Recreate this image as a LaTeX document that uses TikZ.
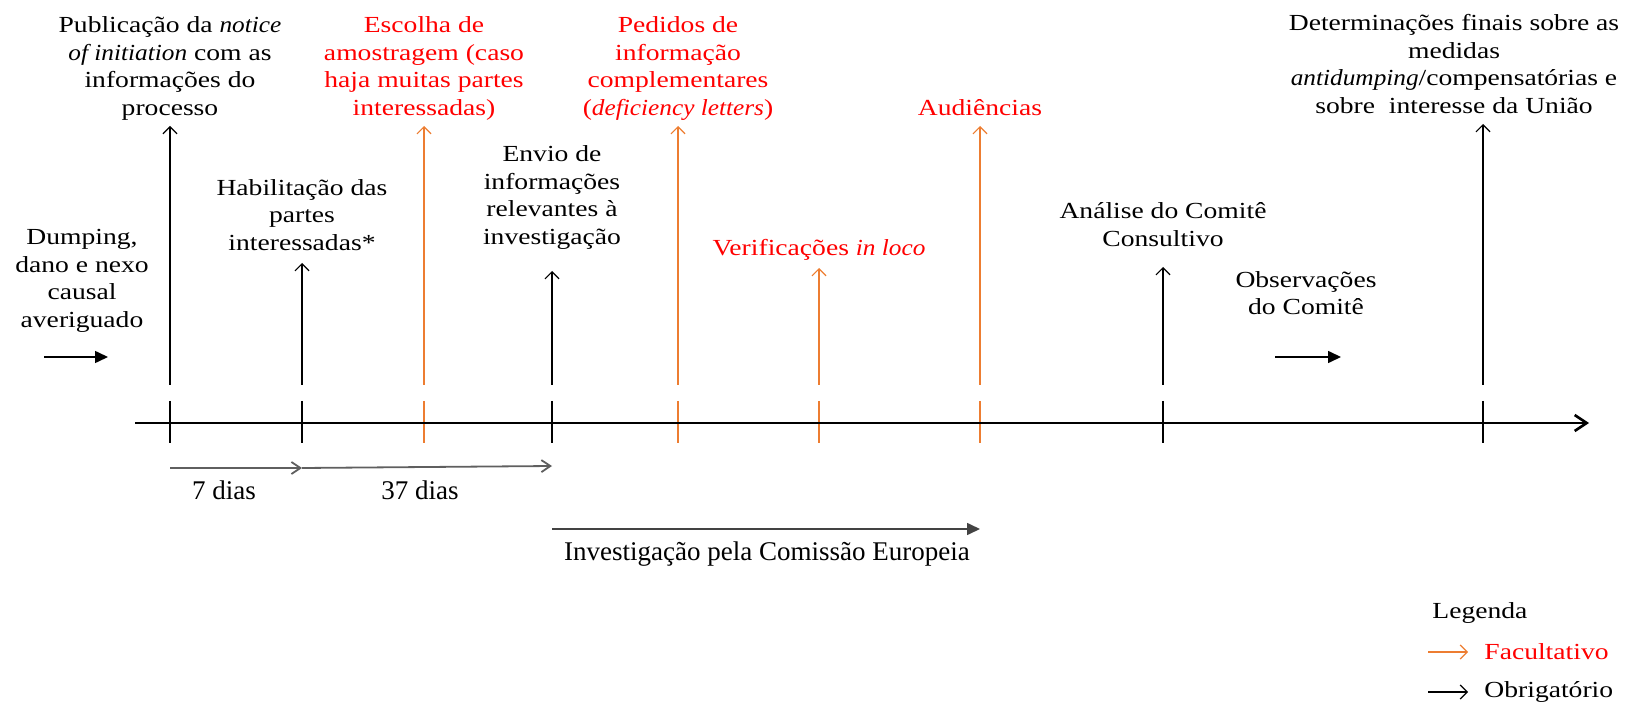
\documentclass[tikz,border=0pt]{standalone}
\usepackage{fontspec}
\setmainfont{Liberation Serif}[FakeStretch=1.2]
\newfontfamily\narrowfont{Liberation Serif}
\newfontfamily\halfwide{Liberation Serif}[FakeStretch=1.1]
\newcommand\itl[1]{{\halfwide\itshape #1}}
\usepackage{xcolor}
\usepackage{tikz}
\usetikzlibrary{arrows.meta}
\definecolor{R1}{RGB}{255,0,0}
\definecolor{O1}{RGB}{237,125,49}
\definecolor{G1}{RGB}{95,95,95}

\begin{document}
\begin{tikzpicture}[x=0.5pt,y=-0.5pt,
      font=\fontsize{11.5}{13.8}\selectfont,
      ev/.style={align=center,anchor=south,text depth=0pt,
                 inner xsep=0pt,inner ysep=5pt},
      fac/.style={ev,text=R1},
      txt/.style={align=center,inner sep=0pt},
      obr/.style={-{Straight Barb[length=3.5pt,width=7pt]},line width=0.6pt},
      opt/.style={obr,O1},
      tk/.style={line width=0.6pt},
      dias/.style={-{Straight Barb[length=4.5pt,width=6pt]},G1,line width=0.9pt},
      fwd/.style={-{Triangle[length=6.5pt,width=6pt]},line width=0.8pt},
      small/.style={font=\narrowfont\fontsize{13.5}{16}\selectfont,inner sep=0pt}]
  \useasboundingbox (0,0) rectangle (1648,705);

  % events above the time line
  \node[ev] (pub) at (170,126)
    {Publicação da \itl{notice}\\\itl{of initiation} com as\\
     informações do\\processo};
  \node[fac] (esc) at (424,126)
    {Escolha de\\amostragem (caso\\haja muitas partes\\interessadas)};
  \node[fac] (ped) at (678,126)
    {Pedidos de\\informação\\complementares\\(\itl{deficiency letters})};
  \node[fac] (aud) at (980,126) {Audiências};
  \node[ev] (det) at (1454,124)
    {Determinações finais sobre as\\medidas\\
     \itl{antidumping}/compensatórias e\\sobre\ \ interesse da União};
  \node[ev,inner ysep=6pt] (hab) at (302,263)
    {Habilitação das\\partes\\interessadas*};
  \node[ev,inner ysep=13pt] (env) at (552,271)
    {Envio de\\informações\\relevantes à\\investigação};
  \node[fac,inner ysep=6pt] (ver) at (819,268) {Verificações \itl{in loco}};
  \node[ev,inner ysep=10pt] (ana) at (1163,267)
    {Análise do Comitê\\Consultivo};

  \node[txt] (dmp) at (82,281) {Dumping,\\dano e nexo\\causal\\averiguado};
  \node[txt] (obs) at (1306,293) {Observações\\do Comitê};

  % arrows up from the line
  \coordinate (b1) at (170,385);
  \coordinate (b2) at (302,385);
  \coordinate (b3) at (424,385);
  \coordinate (b4) at (552,385);
  \coordinate (b5) at (678,385);
  \coordinate (b6) at (819,385);
  \coordinate (b7) at (980,385);
  \coordinate (b8) at (1163,385);
  \coordinate (b9) at (1483,385);
  \draw[obr] (b1) -- (b1 |- pub.south);
  \draw[obr] (b2) -- (b2 |- hab.south);
  \draw[opt] (b3) -- (b3 |- esc.south);
  \draw[obr] (b4) -- (b4 |- env.south);
  \draw[opt] (b5) -- (b5 |- ped.south);
  \draw[opt] (b6) -- (b6 |- ver.south);
  \draw[opt] (b7) -- (b7 |- aud.south);
  \draw[obr] (b8) -- (b8 |- ana.south);
  \draw[obr] (b9) -- (b9 |- det.south);

  % time line
  \foreach \x/\c in {170/black,302/black,424/O1,552/black,678/O1,
                     819/O1,980/O1,1163/black,1483/black}
    \draw[tk,\c] (\x,401) -- (\x,443);
  \coordinate (t0) at (135,423);
  \coordinate (t1) at (1589,423);
  \draw[-{Straight Barb[length=6pt,width=8pt]},line width=1.3pt] (t0) -- (t1);

  \coordinate (in1) at (44,357);
  \coordinate (in2) at (108,357);
  \draw[fwd] (in1) -- (in2);
  \coordinate (ob1) at (1275,357);
  \coordinate (ob2) at (1341,357);
  \draw[fwd] (ob1) -- (ob2);

  % periods
  \coordinate (d1) at (170,468);
  \coordinate (d2) at (302,468);
  \coordinate (d3) at (552,466);
  \draw[dias] (d1) -- (d2);
  \draw[dias] (d2) -- (d3);
  \node[small] (p7) at (224,490) {7 dias};
  \node[small] (p37) at (420,490) {37 dias};

  \coordinate (i1) at (552,529);
  \coordinate (i2) at (980,529);
  \draw[fwd,G1!70!black] (i1) -- (i2);
  \node[small] (inv) at (767,554) {Investigação pela Comissão Europeia};

  % legenda
  \node[anchor=west,inner sep=0pt] (leg) at (1432,613) {Legenda};
  \node[anchor=west,inner sep=0pt,text=R1] (lfac) at (1484,652) {Facultativo};
  \node[anchor=west,inner sep=0pt] (lobr) at (1484,692) {Obrigatório};
  \draw[opt] ([xshift=-28pt]lfac.west) -- ([xshift=-8pt]lfac.west);
  \draw[obr] ([xshift=-28pt]lobr.west) -- ([xshift=-8pt]lobr.west);
\end{tikzpicture}
\end{document}
